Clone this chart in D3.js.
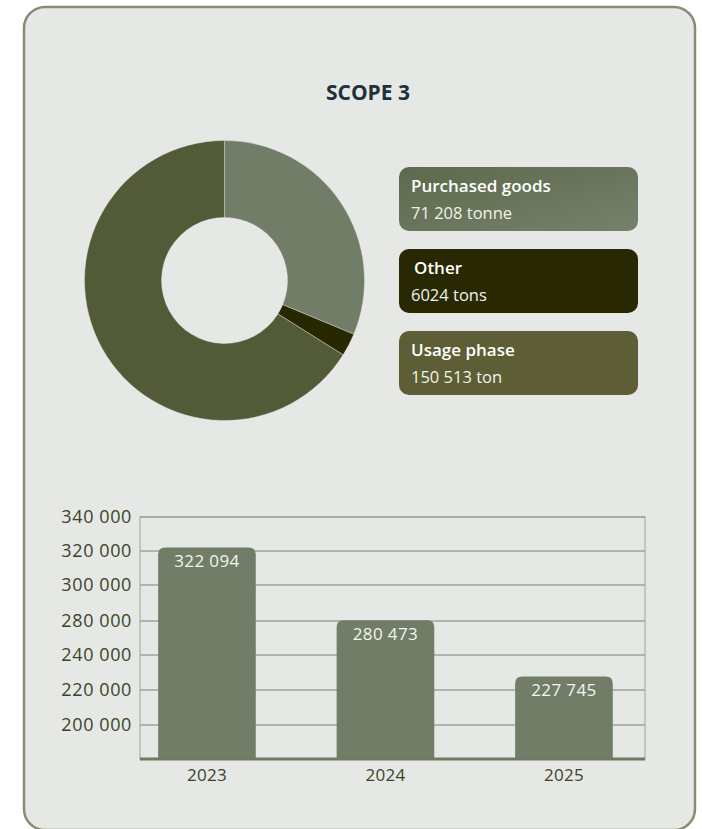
<!DOCTYPE html>
<html lang="en">
<head>
<meta charset="utf-8">
<title>Scope 3</title>
<style>
  body { margin: 0; background: #ffffff; }
  svg { display: block; }
  text { font-family: "Open Sans", "Noto Sans", sans-serif; }
</style>
<script src="https://d3js.org/d3.v7.min.js"></script>
</head>
<body>
<svg width="702" height="829"></svg>
<script>
  // donut data
  var sliceNames = ["Purchased goods", "Other", "Usage phase"];
  var sliceValues = [71208, 6024, 150513];
  var sliceUnits = ["tonne", "tons", "ton"];
  var sliceColors = ["#727d68", "#272700", "#535a38"];
  var boxColors = ["#687459", "#282803", "#5d5e35"];

  // bar data
  var years = ["2023", "2024", "2025"];
  var totals = [322094, 280473, 227745];
  var yTicks = [200000, 220000, 240000, 280000, 300000, 320000, 340000];

  var svg = d3.select("svg");
  var locale = d3.formatLocale({ decimal: ",", thousands: "\u00a0", grouping: [3], currency: ["", ""] });
  var fmt = locale.format(",d");

  // card
  svg.append("rect")
     .attr("x", 24).attr("y", 7)
     .attr("width", 671).attr("height", 823)
     .attr("rx", 21)
     .attr("fill", "#e6e8e5")
     .attr("stroke", "#878c71")
     .attr("stroke-width", 2.5);

  // title
  svg.append("text")
     .attr("x", 368).attr("y", 100)
     .attr("text-anchor", "middle")
     .attr("font-weight", "bold")
     .attr("font-size", "21px")
     .attr("fill", "#1e313c")
     .text("SCOPE 3");

  // ---- donut
  var pie = d3.pie().sort(null).value(function (d) { return d; });
  var arc = d3.arc().innerRadius(63).outerRadius(140);
  var donut = svg.append("g").attr("transform", "translate(224.5,280.5)");
  donut.selectAll("path")
       .data(pie(sliceValues))
       .enter().append("path")
       .attr("d", arc)
       .attr("fill", function (d, i) { return sliceColors[i]; })
       .attr("stroke", "#e6e8e5")
       .attr("stroke-width", 0.4);

  // legend boxes
  var defs = svg.append("defs");
  var grad = defs.append("linearGradient").attr("id", "pg")
     .attr("x1", "0%").attr("y1", "0%").attr("x2", "100%").attr("y2", "100%");
  grad.append("stop").attr("offset", "0%").attr("stop-color", "#5d6a4c");
  grad.append("stop").attr("offset", "100%").attr("stop-color", "#75816b");

  var legendY = d3.scaleBand().domain(sliceNames).range([167, 395]).paddingInner(0.22);
  var leg = svg.selectAll(".leg")
     .data(sliceNames)
     .enter().append("g")
     .attr("class", "leg")
     .attr("transform", function (d) { return "translate(399," + legendY(d) + ")"; });

  leg.append("rect")
     .attr("width", 239)
     .attr("height", legendY.bandwidth())
     .attr("rx", 10)
     .attr("fill", function (d, i) { return i === 0 ? "url(#pg)" : boxColors[i]; });

  leg.append("text")
     .attr("x", function (d, i) { return i === 1 ? 15 : 12; })
     .attr("y", 25)
     .attr("font-weight", 600)
     .attr("font-size", "17px")
     .attr("fill", "#ffffff")
     .text(function (d) { return d; });

  leg.append("text")
     .attr("x", 12)
     .attr("y", 52)
     .attr("font-size", "16.5px")
     .attr("fill", "#f2f2ec")
     .text(function (d, i) {
       var v = sliceValues[i];
       return (v >= 10000 ? fmt(v) : String(v)) + " " + sliceUnits[i];
     });

  // ---- bar chart
  var plotLeft = 140, plotRight = 645, plotTop = 517, plotBottom = 759;

  // labelled gridlines are evenly spaced, so a piecewise scale through them
  var yScale = d3.scaleLinear()
     .domain([180000].concat(yTicks))
     .range([plotBottom, 725, 690, 655, 621, 585, 551, plotTop]);

  var xScale = d3.scaleBand()
     .domain(years)
     .range([plotLeft, plotRight])
     .paddingInner(0.453)
     .paddingOuter(0.141)
     .align(0.36);

  var g = svg.append("g");

  // frame
  g.append("rect")
   .attr("x", plotLeft).attr("y", plotTop)
   .attr("width", plotRight - plotLeft).attr("height", plotBottom - plotTop)
   .attr("fill", "none")
   .attr("stroke", "#b6bbae")
   .attr("stroke-width", 1.5);

  // gridlines
  g.selectAll(".grid")
   .data(yTicks)
   .enter().append("line")
   .attr("class", "grid")
   .attr("x1", plotLeft).attr("x2", plotRight)
   .attr("y1", function (d) { return yScale(d); })
   .attr("y2", function (d) { return yScale(d); })
   .attr("stroke", "#9ea493")
   .attr("stroke-width", 1.6);

  // y axis labels
  var yAxis = g.append("g")
   .attr("transform", "translate(" + plotLeft + ",0)")
   .call(d3.axisLeft(yScale).tickValues(yTicks).tickSize(0).tickPadding(8).tickFormat(fmt));
  yAxis.select(".domain").remove();
  yAxis.selectAll("text")
   .attr("font-family", "'Open Sans', sans-serif")
   .attr("font-size", "18px")
   .attr("letter-spacing", "0.6px")
   .attr("fill", "#3a4527");

  // bars with rounded tops
  function barPath(x, y, w, h, r) {
    return "M" + x + "," + (y + h) +
           "V" + (y + r) +
           "Q" + x + "," + y + " " + (x + r) + "," + y +
           "H" + (x + w - r) +
           "Q" + (x + w) + "," + y + " " + (x + w) + "," + (y + r) +
           "V" + (y + h) + "Z";
  }

  g.selectAll(".bar")
   .data(totals)
   .enter().append("path")
   .attr("class", "bar")
   .attr("fill", "#727d68")
   .attr("d", function (d, i) {
     var y = yScale(d);
     return barPath(xScale(years[i]), y, xScale.bandwidth(), plotBottom - y, 7);
   });

  g.selectAll(".val")
   .data(totals)
   .enter().append("text")
   .attr("class", "val")
   .attr("x", function (d, i) { return xScale(years[i]) + xScale.bandwidth() / 2; })
   .attr("y", function (d) { return yScale(d) + 20; })
   .attr("text-anchor", "middle")
   .attr("font-size", "17px")
   .attr("letter-spacing", "0.4px")
   .attr("fill", "#f3f4ee")
   .text(function (d) { return fmt(d); });

  // baseline
  g.append("line")
   .attr("x1", plotLeft).attr("x2", plotRight)
   .attr("y1", plotBottom).attr("y2", plotBottom)
   .attr("stroke", "#6f7a63")
   .attr("stroke-width", 3);

  // x axis labels
  var xAxis = g.append("g")
   .attr("transform", "translate(0," + plotBottom + ")")
   .call(d3.axisBottom(xScale).tickSize(0).tickPadding(10));
  xAxis.select(".domain").remove();
  xAxis.selectAll("text")
   .attr("font-family", "'Open Sans', sans-serif")
   .attr("font-size", "17px")
   .attr("letter-spacing", "0.3px")
   .attr("fill", "#3a4527");
</script>
</body>
</html>
